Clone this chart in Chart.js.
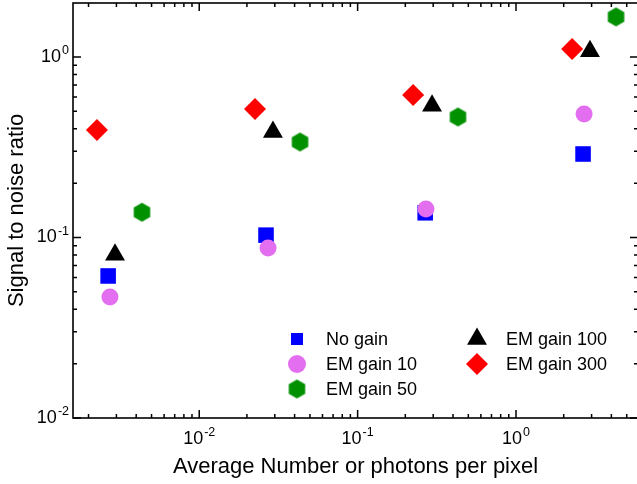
<!DOCTYPE html>
<html>
<head>
<meta charset="utf-8">
<script src="https://cdn.jsdelivr.net/npm/chart.js@4.4.0/dist/chart.umd.min.js"></script>
<style>
  html, body { margin: 0; padding: 0; background: #fff; overflow: hidden; }
</style>
</head>
<body>
<canvas id="snr" width="640" height="484"></canvas>
<script>
// photons per pixel (x) and signal to noise ratio (y) for each gain setting
const noGainX = [0.00266, 0.0264, 0.267, 2.65];
const noGainY = [0.0612, 0.103, 0.137, 0.290];
const gain10X = [0.00273, 0.0272, 0.270, 2.69];
const gain10Y = [0.0468, 0.0875, 0.144, 0.483];
const gain50X = [0.00435, 0.0433, 0.430, 4.28];
const gain50Y = [0.138, 0.338, 0.465, 1.666];
const gain100X = [0.00294, 0.0292, 0.295, 2.93];
const gain100Y = [0.0803, 0.384, 0.537, 1.075];
const gain300X = [0.00226, 0.0225, 0.224, 2.26];
const gain300Y = [0.394, 0.515, 0.616, 1.107];

const seriesNames = ['No gain', 'EM gain 10', 'EM gain 50', 'EM gain 100', 'EM gain 300'];

const xMajorTicks = [0.01, 0.1, 1];
const xTickExp = ['-2', '-1', '0'];
const yMajorTicks = [0.01, 0.1, 1];
const yTickExp = ['-2', '-1', '0'];

const xTitle = 'Average Number or photons per pixel';
const yTitle = 'Signal to noise ratio';

const FONT = '"Liberation Sans", Arial, sans-serif';

function pts(xs, ys) {
  return xs.map((x, i) => ({ x: x, y: ys[i] }));
}

// Chart.js has no hexagon marker, so build one on a small canvas
function hexagon(r, color) {
  const c = document.createElement('canvas');
  const s = Math.ceil(2 * r + 2);
  c.width = s; c.height = s;
  const g = c.getContext('2d');
  g.fillStyle = color;
  g.beginPath();
  for (let i = 0; i < 6; i++) {
    const a = Math.PI / 2 + i * Math.PI / 3;
    g.lineTo(s / 2 + r * Math.cos(a), s / 2 + r * Math.sin(a));
  }
  g.closePath();
  g.fill();
  return c;
}

const BLUE = '#0000ff', VIOLET = '#e46ef0', GREEN = '#009000', BLACK = '#000000', RED = '#ff0000';
const hex = hexagon(9.5, GREEN);

const styles = [
  { pointStyle: 'rect', radius: 11, legendRadius: 8.5, color: BLUE },
  { pointStyle: 'circle', radius: 8.5, legendRadius: 9, color: VIOLET },
  { pointStyle: hex, radius: 9.5, legendRadius: 9.5, color: GREEN },
  { pointStyle: 'triangle', radius: 11.5, legendRadius: 11.5, color: BLACK },
  { pointStyle: 'rectRot', radius: 11, legendRadius: 11, color: RED }
];
const seriesData = [pts(noGainX, noGainY), pts(gain10X, gain10Y), pts(gain50X, gain50Y),
                    pts(gain100X, gain100Y), pts(gain300X, gain300Y)];
const drawOrder = [5, 4, 3, 2, 1];

const datasets = seriesData.map((d, i) => ({
  label: seriesNames[i],
  data: d,
  pointStyle: styles[i].pointStyle,
  pointRadius: styles[i].radius,
  backgroundColor: styles[i].color,
  borderColor: styles[i].color,
  borderWidth: 0,
  order: drawOrder[i],
  clip: false
}));

function drawPow(ctx, exp, x, y, align) {
  ctx.font = '18px ' + FONT;
  const wBase = ctx.measureText('10').width;
  ctx.font = '12.5px ' + FONT;
  const wExp = ctx.measureText(exp).width;
  const total = wBase + wExp + 1;
  let x0 = align === 'center' ? x - total / 2 : x - total;
  ctx.textAlign = 'left';
  ctx.textBaseline = 'middle';
  ctx.font = '18px ' + FONT;
  ctx.fillText('10', x0, y);
  ctx.font = '12.5px ' + FONT;
  ctx.fillText(exp, x0 + wBase + 1, y - 6);
}

function minorTicks(min, max) {
  const out = [];
  for (let d = Math.floor(Math.log10(min)); d <= Math.ceil(Math.log10(max)); d++) {
    for (let m = 1; m <= 9; m++) {
      const v = m * Math.pow(10, d);
      if (v >= min && v <= max) out.push({ v: v, major: m === 1 });
    }
  }
  return out;
}

const frame = {
  id: 'frame',
  afterDraw(chart) {
    const ctx = chart.ctx;
    const a = chart.chartArea;
    const xs = chart.scales.x, ys = chart.scales.y;
    ctx.save();
    ctx.strokeStyle = '#000';
    ctx.fillStyle = '#000';

    // axis box
    ctx.lineWidth = 1.6;
    ctx.strokeRect(a.left, a.top, a.right - a.left, a.bottom - a.top);

    // inward ticks on all four sides
    ctx.lineWidth = 1.5;
    ctx.beginPath();
    minorTicks(xs.min, xs.max).forEach(t => {
      const p = xs.getPixelForValue(t.v);
      const len = t.major ? 8 : 4;
      ctx.moveTo(p, a.bottom); ctx.lineTo(p, a.bottom - len);
      ctx.moveTo(p, a.top); ctx.lineTo(p, a.top + len);
    });
    minorTicks(ys.min, ys.max).forEach(t => {
      const p = ys.getPixelForValue(t.v);
      const len = t.major ? 8 : 4;
      ctx.moveTo(a.left, p); ctx.lineTo(a.left + len, p);
      ctx.moveTo(a.right, p); ctx.lineTo(a.right - len, p);
    });
    ctx.stroke();

    // tick labels
    xMajorTicks.forEach((v, i) => drawPow(ctx, xTickExp[i], xs.getPixelForValue(v), a.bottom + 21, 'center'));
    yMajorTicks.forEach((v, i) => drawPow(ctx, yTickExp[i], a.left - 4, ys.getPixelForValue(v), 'right'));

    // axis titles
    ctx.font = '22px ' + FONT;
    ctx.textAlign = 'center';
    ctx.textBaseline = 'middle';
    ctx.fillText(xTitle, (a.left + a.right) / 2, 467);
    ctx.save();
    ctx.translate(17, (a.top + a.bottom) / 2);
    ctx.rotate(-Math.PI / 2);
    ctx.fillText(yTitle, 0, 0);
    ctx.restore();

    // legend, two columns inside the plot
    const cols = [297, 477];
    const rows = [339, 364, 389];
    const slots = [[0, 0], [0, 1], [0, 2], [1, 0], [1, 1]];
    ctx.font = '18px ' + FONT;
    ctx.textAlign = 'left';
    seriesNames.forEach((name, i) => {
      const [c, r] = slots[i];
      const s = styles[i];
      ctx.fillStyle = s.color;
      ctx.strokeStyle = s.color;
      Chart.helpers.drawPoint(ctx, { pointStyle: s.pointStyle, radius: s.legendRadius, borderWidth: 0, rotation: 0 }, cols[c], rows[r]);
      ctx.fillStyle = '#000';
      ctx.fillText(name, cols[c] + 29, rows[r] + 1);
    });
    ctx.restore();
  }
};

new Chart(document.getElementById('snr'), {
  type: 'scatter',
  data: { datasets: datasets },
  options: {
    responsive: false,
    animation: false,
    devicePixelRatio: 1,
    layout: { autoPadding: false, padding: { left: 73, right: 2, top: 3, bottom: 66 } },
    scales: {
      x: { type: 'logarithmic', min: 0.001596, max: 5.89, display: false },
      y: { type: 'logarithmic', min: 0.01, max: 1.99, display: false }
    },
    plugins: {
      legend: { display: false },
      tooltip: { enabled: false }
    }
  },
  plugins: [frame]
});
</script>
</body>
</html>
